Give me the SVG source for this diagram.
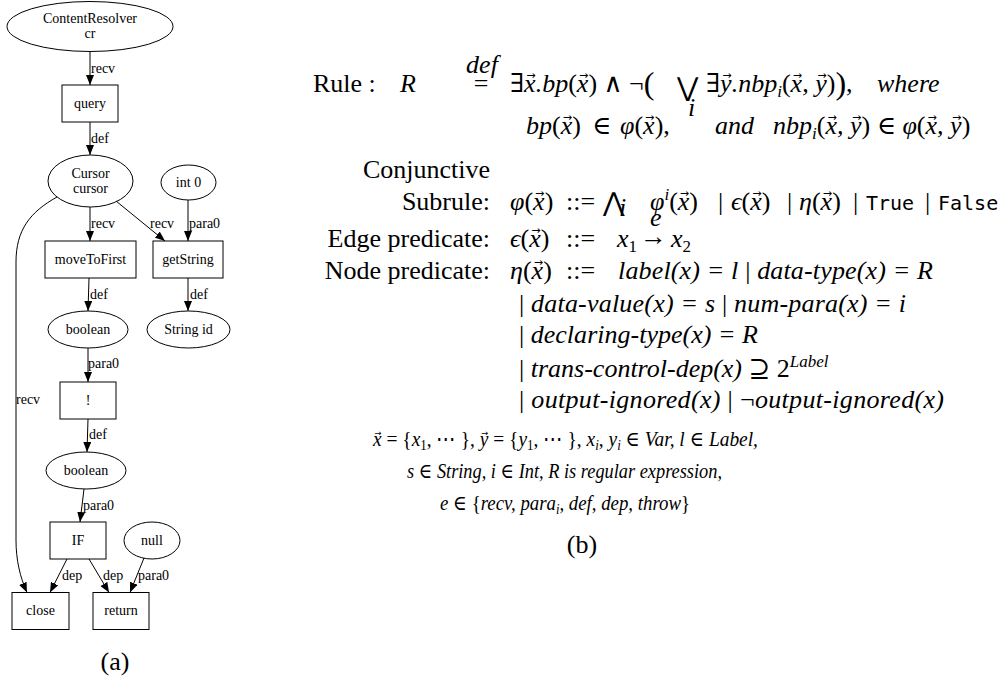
<svg xmlns="http://www.w3.org/2000/svg" width="1007" height="681" viewBox="0 0 1007 681">
<defs>
<marker id="ah" markerUnits="userSpaceOnUse" markerWidth="10" markerHeight="8" viewBox="0 0 10 8" refX="10" refY="4" orient="auto"><path d="M0,0 L10,4 L0,8 z" fill="#000"/></marker>
<style>
.t{font-family:"Liberation Serif","DejaVu Serif",serif;font-size:26px;fill:#000;white-space:pre}
.s21{font-size:21px}
.i{font-style:italic}
.u{font-style:normal}
.va{font-family:"DejaVu Sans",sans-serif;font-size:11px;font-style:normal}
.va9{font-family:"DejaVu Sans",sans-serif;font-size:9px;font-style:normal}
.mono{font-family:"DejaVu Sans Mono",monospace;font-size:20px;font-style:normal}
.g{font-family:"Liberation Serif",serif;font-size:14px;fill:#000}
.nd{fill:none;stroke:#000;stroke-width:1}
.ed{fill:none;stroke:#000;stroke-width:1;marker-end:url(#ah)}
.mid{text-anchor:middle}
</style>
</defs>
<rect width="1007" height="681" fill="#fff"/>

<g id="connectors">
<path class="ed" d="M90,52 L90,85"/><text class="g" x="91" y="73">recv</text>
<path class="ed" d="M90,122 L90,155"/><text class="g" x="91" y="143">def</text>
<path class="ed" d="M90,207 L90,241"/><text class="g" x="91" y="228">recv</text>
<path class="ed" d="M116,201 L165,241"/><text class="g" x="150" y="228">recv</text>
<path class="ed" d="M188,200 L188,241"/><text class="g" x="189" y="228">para0</text>
<path class="ed" d="M89,278 L88,311"/><text class="g" x="90" y="299">def</text>
<path class="ed" d="M188,278 L188,311"/><text class="g" x="190" y="299">def</text>
<path class="ed" d="M88,348 L88,382"/><text class="g" x="88" y="368">para0</text>
<path class="ed" d="M88,419 L87,452"/><text class="g" x="89" y="439">def</text>
<path class="ed" d="M84,489 L80,522"/><text class="g" x="83" y="510">para0</text>
<path class="ed" d="M67,559 L50,592.5"/><text class="g" x="62" y="580">dep</text>
<path class="ed" d="M89,559 L109,592.5"/><text class="g" x="103" y="580">dep</text>
<path class="ed" d="M144,558 L130,592.5"/><text class="g" x="138" y="580">para0</text>
<path class="ed" d="M57,197 C30,212 16,230 16,262 L16,540 C16,560 20,577 27,592.5"/><text class="g" x="16" y="404">recv</text>
</g>

<g id="n_cr"><ellipse class="nd" cx="90" cy="26.5" rx="83" ry="25"/><text class="g mid" x="90" y="23">ContentResolver</text><text class="g mid" x="90" y="38">cr</text></g>
<g id="n_query"><rect class="nd" x="62" y="85" width="56" height="37"/><text class="g mid" x="90" y="108">query</text></g>
<g id="n_cursor"><ellipse class="nd" cx="90.5" cy="181" rx="42.5" ry="26"/><text class="g mid" x="90.5" y="178">Cursor</text><text class="g mid" x="90.5" y="193">cursor</text></g>
<g id="n_int0"><ellipse class="nd" cx="188.5" cy="182.5" rx="27.5" ry="17.5"/><text class="g mid" x="188.5" y="187">int 0</text></g>
<g id="n_move"><rect class="nd" x="45" y="241" width="91" height="37"/><text class="g mid" x="90.5" y="264">moveToFirst</text></g>
<g id="n_getString"><rect class="nd" x="153" y="241" width="70" height="37"/><text class="g mid" x="188" y="264">getString</text></g>
<g id="n_bool1"><ellipse class="nd" cx="88" cy="329.5" rx="40" ry="18.5"/><text class="g mid" x="88" y="334">boolean</text></g>
<g id="n_strid"><ellipse class="nd" cx="188.5" cy="329.5" rx="41.5" ry="18.5"/><text class="g mid" x="188.5" y="334">String id</text></g>
<g id="n_not"><rect class="nd" x="60" y="382" width="56" height="37"/><text class="g mid" x="88" y="405">!</text></g>
<g id="n_bool2"><ellipse class="nd" cx="86" cy="470.5" rx="40" ry="18.5"/><text class="g mid" x="86" y="475">boolean</text></g>
<g id="n_if"><rect class="nd" x="50" y="522" width="56" height="37"/><text class="g mid" x="78" y="545">IF</text></g>
<g id="n_null"><ellipse class="nd" cx="152" cy="540.5" rx="28" ry="18.5"/><text class="g mid" x="152" y="545">null</text></g>
<g id="n_close"><rect class="nd" x="12" y="592.5" width="57" height="37"/><text class="g mid" x="40.5" y="615">close</text></g>
<g id="n_return"><rect class="nd" x="93" y="592.5" width="56" height="37"/><text class="g mid" x="121" y="615">return</text></g>

<text class="t mid" x="115" y="670" font-size="21">(a)</text>

<g id="rules">
<text class="t" x="313" y="92">Rule :</text>
<text class="t i" x="400" y="92">R</text>
<text class="t i mid" x="482" y="73" font-size="17">def</text>
<text class="t mid" x="481" y="92">=</text>
<text class="t i" x="510" y="92"><tspan class="u">∃</tspan>x<tspan class="va" dx="-9.5" dy="-13">→</tspan><tspan dx="0.3" dy="13">.bp</tspan><tspan class="u">(</tspan>x<tspan class="va" dx="-9.5" dy="-13">→</tspan><tspan class="u" dx="0.3" dy="13">) ∧ ¬</tspan><tspan class="u" font-size="32" dy="2">(</tspan></text>
<text class="t u" x="677" y="96" font-size="28">⋁</text>
<text class="t i" x="688" y="116" font-size="17">i</text>
<text class="t i" x="706" y="92"><tspan class="u">∃</tspan>y<tspan class="va" dx="-9.5" dy="-13">→</tspan><tspan dx="0.3" dy="13">.nbp</tspan><tspan font-size="17" dy="5">i</tspan><tspan class="u" dy="-5">(</tspan>x<tspan class="va" dx="-9.5" dy="-13">→</tspan><tspan dx="0.3" dy="13">, y</tspan><tspan class="va" dx="-9.5" dy="-13">→</tspan><tspan class="u" dx="0.3" dy="13">)</tspan><tspan class="u" font-size="32" dy="2">)</tspan><tspan class="u" dy="-2">,</tspan></text>
<text class="t i" x="877" y="92">where</text>

<text class="t i" x="526" y="134">bp<tspan class="u">(</tspan>x<tspan class="va" dx="-9.5" dy="-13">→</tspan><tspan class="u" dx="0.3" dy="13">)</tspan></text>
<text class="t u" x="592" y="134">∈</text>
<text class="t i" x="620" y="134">φ<tspan class="u">(</tspan>x<tspan class="va" dx="-9.5" dy="-13">→</tspan><tspan class="u" dx="0.3" dy="13">),</tspan></text>
<text class="t i" x="715" y="134">and</text>
<text class="t i" x="773" y="134">nbp<tspan font-size="17" dy="5">i</tspan><tspan class="u" dy="-5">(</tspan>x<tspan class="va" dx="-9.5" dy="-13">→</tspan><tspan dx="0.3" dy="13">, y</tspan><tspan class="va" dx="-9.5" dy="-13">→</tspan><tspan class="u" dx="0.3" dy="13">) ∈ </tspan>φ<tspan class="u">(</tspan>x<tspan class="va" dx="-9.5" dy="-13">→</tspan><tspan dx="0.3" dy="13">, y</tspan><tspan class="va" dx="-9.5" dy="-13">→</tspan><tspan class="u" dx="0.3" dy="13">)</tspan></text>

<text class="t" x="490" y="178" text-anchor="end">Conjunctive</text>
<text class="t" x="490" y="210" text-anchor="end">Subrule:</text>
<text class="t" x="490" y="247" text-anchor="end">Edge predicate:</text>
<text class="t" x="490" y="279" text-anchor="end">Node predicate:</text>

<text class="t i" x="510" y="210">φ<tspan class="u">(</tspan>x<tspan class="va" dx="-9.5" dy="-13">→</tspan><tspan class="u" dx="0.3" dy="13">)</tspan></text>
<text class="t" x="566" y="210">::=</text>
<text class="t u" x="603" y="211" font-size="20">⋀</text>
<text class="t i" x="619" y="216" font-size="17">i</text>
<text class="t i" x="650" y="210">φ<tspan font-size="17" dy="-10">i</tspan><tspan class="u" dy="10">(</tspan>x<tspan class="va" dx="-9.5" dy="-13">→</tspan><tspan class="u" dx="0.3" dy="13">)</tspan></text>
<text class="t" x="718" y="210">|</text>
<text class="t i" x="731" y="210">ϵ<tspan class="u">(</tspan>x<tspan class="va" dx="-9.5" dy="-13">→</tspan><tspan class="u" dx="0.3" dy="13">)</tspan></text>
<text class="t" x="787" y="210">|</text>
<text class="t i" x="799" y="210">η<tspan class="u">(</tspan>x<tspan class="va" dx="-9.5" dy="-13">→</tspan><tspan class="u" dx="0.3" dy="13">)</tspan></text>
<text class="t" x="853" y="210">|</text>
<text class="t mono" x="866" y="210">True</text>
<text class="t" x="925" y="210">|</text>
<text class="t mono" x="938" y="210">False</text>

<text class="t i" x="510" y="247">ϵ<tspan class="u">(</tspan>x<tspan class="va" dx="-9.5" dy="-13">→</tspan><tspan class="u" dx="0.3" dy="13">)</tspan></text>
<text class="t" x="566" y="247">::=</text>
<text class="t i" x="617" y="247">x<tspan class="u" font-size="17" dy="5">1</tspan></text>
<text class="t u" x="640" y="245" textLength="27" lengthAdjust="spacingAndGlyphs">→</text>
<text class="t i" x="650" y="226" font-size="17">e</text>
<text class="t i" x="671" y="247">x<tspan class="u" font-size="17" dy="5">2</tspan></text>

<text class="t i" x="510" y="279">η<tspan class="u">(</tspan>x<tspan class="va" dx="-9.5" dy="-13">→</tspan><tspan class="u" dx="0.3" dy="13">)</tspan></text>
<text class="t" x="566" y="279">::=</text>
<text class="t i" x="618" y="279" textLength="315">label(x) = l <tspan class="u">|</tspan> data-type(x) = R</text>
<text class="t i" x="519" y="312" textLength="387"><tspan class="u">|</tspan> data-value(x) = s <tspan class="u">|</tspan> num-para(x) = i</text>
<text class="t i" x="519" y="343" textLength="239"><tspan class="u">|</tspan> declaring-type(x) = R</text>
<text class="t i" x="519" y="377"><tspan class="u">|</tspan> trans-control-dep(x) <tspan class="u">⊇ 2</tspan><tspan font-size="17" dy="-10">Label</tspan></text>
<text class="t i" x="519" y="408" textLength="425"><tspan class="u">|</tspan> output-ignored(x) <tspan class="u">| ¬</tspan>output-ignored(x)</text>

<text class="t i s21" x="373" y="446" textLength="385" lengthAdjust="spacingAndGlyphs">x<tspan class="va9" dx="-7.8" dy="-10.5">→</tspan><tspan class="u" dx="0.26" dy="10.5"> = {</tspan>x<tspan class="u" font-size="14" dy="4">1</tspan><tspan class="u" dy="-4">, ⋯ }, </tspan>y<tspan class="va9" dx="-7.8" dy="-10.5">→</tspan><tspan class="u" dx="0.26" dy="10.5"> = {</tspan>y<tspan class="u" font-size="14" dy="4">1</tspan><tspan class="u" dy="-4">, ⋯ }, </tspan>x<tspan font-size="14" dy="4">i</tspan><tspan class="u" dy="-4">, </tspan>y<tspan font-size="14" dy="4">i</tspan><tspan class="u" dy="-4"> ∈ </tspan>Var, l<tspan class="u"> ∈ </tspan>Label,</text>
<text class="t i s21" x="407" y="478" textLength="315" lengthAdjust="spacingAndGlyphs">s<tspan class="u"> ∈ </tspan>String, i<tspan class="u"> ∈ </tspan>Int, R is regular expression,</text>
<text class="t i s21" x="440" y="510" textLength="250" lengthAdjust="spacingAndGlyphs">e<tspan class="u"> ∈ {</tspan>recv, para<tspan font-size="14" dy="4">i</tspan><tspan dy="-4">, def, dep, throw</tspan><tspan class="u">}</tspan></text>

<text class="t mid" x="582" y="553" font-size="21">(b)</text>
</g>
</svg>
